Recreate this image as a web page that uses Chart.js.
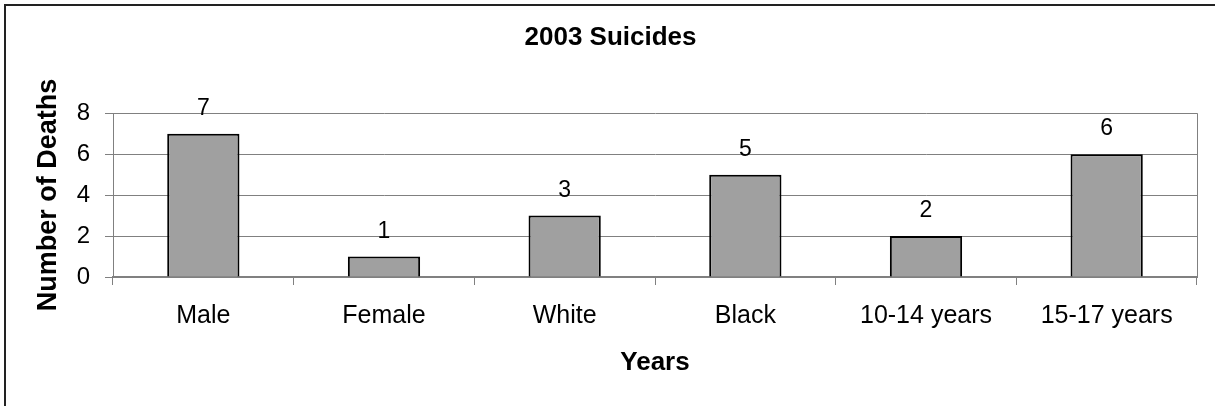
<!DOCTYPE html>
<html>
<head>
<meta charset="utf-8">
<title>2003 Suicides</title>
<script src="https://cdn.jsdelivr.net/npm/chart.js@4/dist/chart.umd.min.js"></script>
<style>
  html, body { margin: 0; padding: 0; background: #fff; overflow: hidden; }
  #wrap { position: relative; width: 1215px; height: 406px; }
  #frame {
    position: absolute; left: 4px; top: 4px; width: 2000px; height: 2000px;
    border-left: 2px solid #222; border-top: 2px solid #222;
  }
  canvas { position: absolute; left: 0; top: 0; }
</style>
</head>
<body>
<div id="wrap">
  <div id="frame"></div>
  <canvas id="suicideChart" width="1215" height="406"></canvas>
</div>
<script>
// chart data
const categories = ['Male', 'Female', 'White', 'Black', '10-14 years', '15-17 years'];
const deaths = [7, 1, 3, 5, 2, 6];
const yTicks = [0, 2, 4, 6, 8];

const FONT = '"Liberation Sans", Arial, Helvetica, sans-serif';

// draws the value above every bar and the grey box edge on the right
const barLabels = {
  id: 'barLabels',
  afterDatasetsDraw(chart) {
    const ctx = chart.ctx;
    const meta = chart.getDatasetMeta(0);
    ctx.save();
    ctx.font = '23px ' + FONT;
    ctx.fillStyle = '#000';
    ctx.textAlign = 'center';
    ctx.textBaseline = 'alphabetic';
    meta.data.forEach((bar, i) => {
      ctx.fillText(String(deaths[i]), bar.x, bar.y - 19);
    });
    ctx.restore();
  },
  beforeDatasetsDraw(chart) {
    const { ctx, chartArea } = chart;
    ctx.save();
    ctx.strokeStyle = '#808080';
    ctx.lineWidth = 1;
    ctx.beginPath();
    ctx.moveTo(Math.round(chartArea.right) + 0.5, chartArea.top);
    ctx.lineTo(Math.round(chartArea.right) + 0.5, chartArea.bottom);
    ctx.stroke();
    ctx.restore();
  }
};

const ctx = document.getElementById('suicideChart').getContext('2d');
const suicideChart = new Chart(ctx, {
  type: 'bar',
  data: {
    labels: categories,
    datasets: [{
      data: deaths,
      backgroundColor: '#A0A0A0',
      borderColor: '#000',
      borderWidth: 2,
      barPercentage: 0.4,
      categoryPercentage: 1.0
    }]
  },
  options: {
    responsive: false,
    animation: false,
    layout: { padding: { left: 24, right: 18, top: 0, bottom: 0 } },
    plugins: {
      legend: { display: false },
      tooltip: { enabled: false },
      title: {
        display: true,
        text: '2003 Suicides',
        color: '#000',
        font: { family: FONT, size: 26, weight: 'bold' },
        padding: { top: 22, bottom: 60 }
      }
    },
    scales: {
      x: {
        afterFit: (scale) => { scale.height = 129; },
        grid: { drawOnChartArea: false, drawTicks: true, tickLength: 8, color: '#808080', offset: true },
        border: { color: '#808080', width: 2 },
        ticks: { color: '#000', font: { family: FONT, size: 25 }, padding: 16, maxRotation: 0 },
        title: {
          display: true,
          text: 'Years',
          color: '#000',
          font: { family: FONT, size: 26, weight: 'bold' },
          padding: { top: 0, bottom: 28 }
        }
      },
      y: {
        min: 0,
        max: 8,
        afterFit: (scale) => { scale.width = 89; },
        afterBuildTicks: (scale) => { scale.ticks = yTicks.map(v => ({ value: v })); },
        grid: { color: '#808080', lineWidth: 1, drawTicks: true, tickLength: 8 },
        border: { color: '#808080', width: 1 },
        ticks: { color: '#000', font: { family: FONT, size: 24 }, padding: 15 },
        title: {
          display: true,
          text: 'Number of Deaths',
          color: '#000',
          font: { family: FONT, size: 27, weight: 'bold' },
          padding: { top: 8, bottom: 0 }
        }
      }
    }
  },
  plugins: [barLabels]
});
</script>
</body>
</html>
